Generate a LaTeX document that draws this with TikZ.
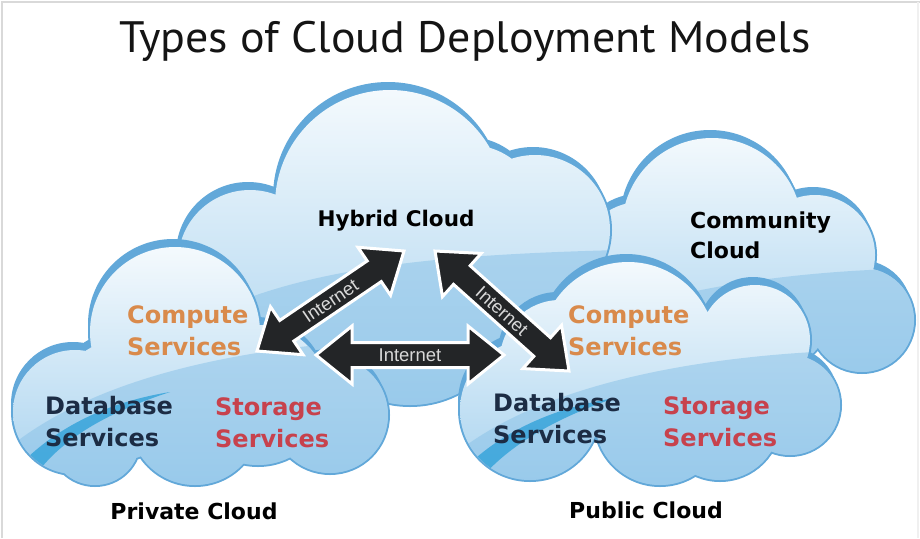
\documentclass[tikz,border=0pt]{standalone}
\usepackage{fontspec}
\setmainfont{DejaVu Sans}
\newfontfamily\titlefont{PT Sans}
\newfontfamily\arrowfont{Liberation Sans}
\usetikzlibrary{calc}
\definecolor{rim}{HTML}{62A8D9}
\definecolor{cloudtop}{HTML}{F5FAFD}
\definecolor{cloudbot}{HTML}{A9D3EF}
\definecolor{cloudlow}{HTML}{8CC3E8}
\definecolor{streak}{HTML}{2A9FD8}
\definecolor{orangetxt}{HTML}{D98A4B}
\definecolor{redtxt}{HTML}{C7424D}
\definecolor{navytxt}{HTML}{1C2C44}
\definecolor{arrowfill}{HTML}{232527}
\definecolor{arrowtxt}{HTML}{D8D8D8}
\tikzset{
  lbl/.style={font=\fontsize{24}{32}\selectfont\bfseries, align=left, anchor=north west, inner sep=0pt},
  captxt/.style={font=\fontsize{22}{28}\selectfont\bfseries, text=black, inner sep=0pt},
  arrowbody/.style={fill=arrowfill, draw=white, line width=3pt, line join=miter},
  arrowlbl/.style={font=\arrowfont\fontsize{18.5}{20}\selectfont, text=arrowtxt, sloped, midway, inner sep=0pt},
}
\newcommand\mycloud[4]{%
  \begin{scope}[shift={(-2,-8)}]\fill[rim] #1;\end{scope}
  \draw[rim, line width=4pt] #1;
  \begin{scope}
    \clip #1;
    \shade[top color=cloudtop, bottom color=cloudbot] #2;
    \fill[cloudlow, opacity=.55] #3;
    \fill[streak, opacity=.75] #4;
  \end{scope}}
\newcommand\dblarrow[2]{%
  \draw[arrowbody] (#1)
    -- ($(#1)!36pt!(#2)!29pt!90:(#2)$)
    -- ($(#1)!36pt!(#2)!12.5pt!90:(#2)$)
    -- ($(#2)!36pt!(#1)!12.5pt!-90:(#1)$)
    -- ($(#2)!36pt!(#1)!29pt!-90:(#1)$)
    -- (#2)
    -- ($(#2)!36pt!(#1)!29pt!90:(#1)$)
    -- ($(#2)!36pt!(#1)!12.5pt!90:(#1)$)
    -- ($(#1)!36pt!(#2)!12.5pt!-90:(#2)$)
    -- ($(#1)!36pt!(#2)!29pt!-90:(#2)$)
    -- cycle;}
\def\hybridpath{(390,205) circle[radius=115pt] (250,262) circle[radius=72pt]
  (470,215) circle[radius=70pt] (535,230) circle[radius=75pt]
  (410,300) circle[radius=105pt] (300,320) circle[radius=80pt] (500,320) circle[radius=80pt]}
\def\communitypath{(712,228) circle[radius=90pt] (640,262) circle[radius=60pt]
  (815,255) circle[radius=60pt] (862,320) circle[radius=52pt]
  (760,300) circle[radius=75pt] (700,300) circle[radius=70pt]}
\def\privatepath{(175,332) circle[radius=85pt] (75,412) circle[radius=62pt]
  (95,440) circle[radius=45pt] (195,420) circle[radius=65pt] (258,395) circle[radius=70pt]
  (330,415) circle[radius=58pt] (120,400) circle[radius=60pt]}
\def\publicpath{(628,350) circle[radius=88pt] (530,410) circle[radius=70pt]
  (660,420) circle[radius=65pt] (755,340) circle[radius=55pt] (790,405) circle[radius=50pt]
  (720,420) circle[radius=60pt] (560,360) circle[radius=60pt]}
\begin{document}
\begin{tikzpicture}[x=1pt,y=-1pt]
\useasboundingbox (0,0) rectangle (920,538);
\fill[white] (0,0) rectangle (920,538);
\draw[gray!30, line width=2pt] (1.5,538) -- (1.5,2) -- (920,2);
\draw[gray!12, line width=1.5pt] (918,2) -- (918,538);

% title
\node[font=\titlefont\fontsize{44}{48}\selectfont, text=black!92, anchor=base, xscale=1.045, inner sep=0pt] (title) at (465,52) {Types of Cloud Deployment Models};

% clouds (back to front)
\mycloud{\communitypath}{(560,130) rectangle (920,380)}
  {(560,330) .. controls (680,285) and (800,270) .. (930,268) -- (930,400) -- (560,400) -- cycle}
  {(0,0) rectangle (0,0)}
\mycloud{\hybridpath}{(180,85) rectangle (620,410)}
  {(180,330) .. controls (280,270) and (420,255) .. (620,250) -- (620,420) -- (180,420) -- cycle}
  {(0,0) rectangle (0,0)}
\mycloud{\privatepath}{(10,245) rectangle (395,485)}
  {(0,455) .. controls (80,385) and (220,345) .. (420,338) -- (420,520) -- (0,520) -- cycle}
  {(8,478) .. controls (40,440) and (90,405) .. (170,392) .. controls (100,415) and (50,445) .. (25,492) -- cycle}
\mycloud{\publicpath}{(455,258) rectangle (845,485)}
  {(450,458) .. controls (530,390) and (680,355) .. (860,350) -- (860,520) -- (450,520) -- cycle}
  {(455,478) .. controls (490,440) and (540,410) .. (615,398) .. controls (550,420) and (500,450) .. (470,492) -- cycle}

% cloud captions
\node[captxt, font=\fontsize{21.5}{24}\selectfont\bfseries] (hybrid) at (396,221) {Hybrid Cloud};
\node[lbl, font=\fontsize{22}{30}\selectfont\bfseries, text=black] (community) at (690,212) {Community\\Cloud};
\node[captxt] (private) at (194,511) {Private Cloud};
\node[captxt] (public) at (646,510) {Public Cloud};

% services
\node[lbl, text=orangetxt] (pcomp) at (127,305) {Compute\\Services};
\node[lbl, text=navytxt] (pdb) at (45,396) {Database\\Services};
\node[lbl, text=redtxt] (pst) at (215,397) {Storage\\Services};
\node[lbl, text=orangetxt] (ucomp) at (568,305) {Compute\\Services};
\node[lbl, text=navytxt] (udb) at (493,393) {Database\\Services};
\node[lbl, text=redtxt] (ust) at (663,396) {Storage\\Services};

% internet arrows
\coordinate (a1s) at (257,351);
\coordinate (a1e) at (404,251);
\coordinate (a2s) at (435,251);
\coordinate (a2e) at (569,371);
\coordinate (a3s) at (316,355);
\coordinate (a3e) at (504,355);
\dblarrow{a1s}{a1e}
\dblarrow{a2s}{a2e}
\dblarrow{a3s}{a3e}
\path (a1s) -- (a1e) node[arrowlbl] (i1) {Internet};
\path (a2s) -- (a2e) node[arrowlbl] (i2) {Internet};
\path (a3s) -- (a3e) node[arrowlbl] (i3) {Internet};
\end{tikzpicture}
\end{document}
